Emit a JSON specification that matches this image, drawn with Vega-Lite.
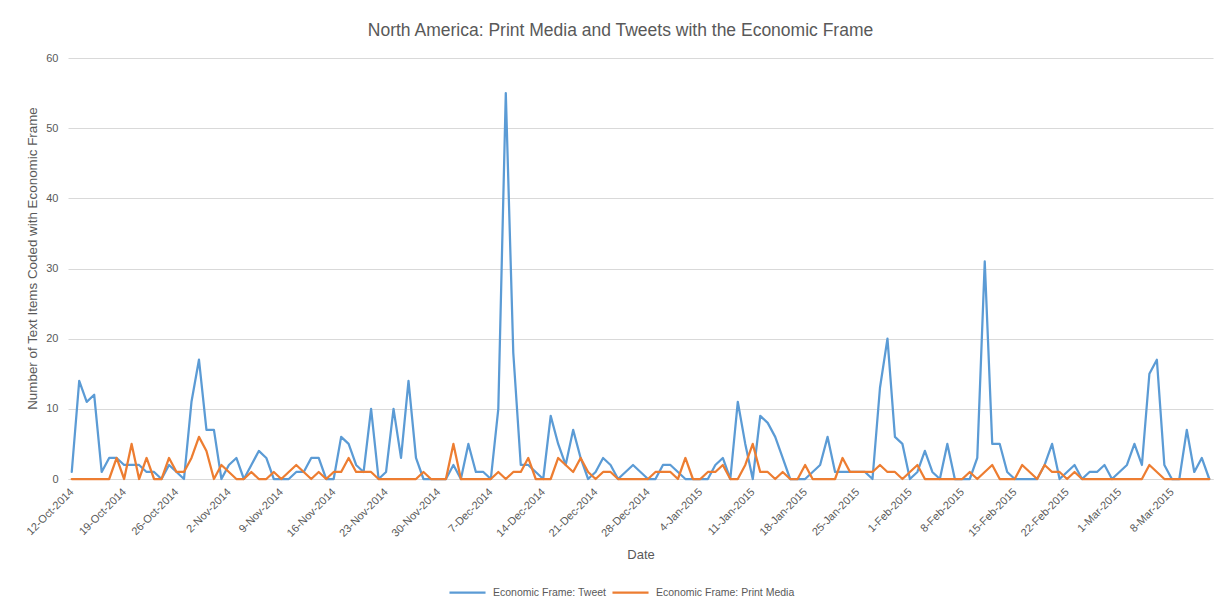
{
  "$schema": "https://vega.github.io/schema/vega-lite/v6.json",
  "autosize": "none",
  "width": 1145,
  "height": 421,
  "padding": {"left": 68, "top": 58, "right": 13, "bottom": 129},
  "background": "white",
  "title": {
    "text": "North America: Print Media and Tweets with the Economic Frame",
    "font": "Liberation Sans",
    "fontSize": 17.5,
    "fontWeight": "normal",
    "color": "#595959",
    "anchor": "middle",
    "dx": -20,
    "offset": 13
  },
  "config": {
    "view": {"stroke": null},
    "font": "Liberation Sans",
    "axis": {
      "labelColor": "#595959",
      "titleColor": "#595959",
      "labelFont": "Liberation Sans",
      "titleFont": "Liberation Sans",
      "titleFontWeight": "normal",
      "gridColor": "#D9D9D9",
      "gridWidth": 1,
      "domainColor": "#D9D9D9",
      "ticks": false
    }
  },
  "datasets": {
    "tweet": [
      {"date":"2014-10-12","n":1},{"date":"2014-10-13","n":14},{"date":"2014-10-14","n":11},{"date":"2014-10-15","n":12},{"date":"2014-10-16","n":1},{"date":"2014-10-17","n":3},{"date":"2014-10-18","n":3},{"date":"2014-10-19","n":2},{"date":"2014-10-20","n":2},{"date":"2014-10-21","n":2},
      {"date":"2014-10-22","n":1},{"date":"2014-10-23","n":1},{"date":"2014-10-24","n":0},{"date":"2014-10-25","n":2},{"date":"2014-10-26","n":1},{"date":"2014-10-27","n":0},{"date":"2014-10-28","n":11},{"date":"2014-10-29","n":17},{"date":"2014-10-30","n":7},{"date":"2014-10-31","n":7},
      {"date":"2014-11-01","n":0},{"date":"2014-11-02","n":2},{"date":"2014-11-03","n":3},{"date":"2014-11-04","n":0},{"date":"2014-11-05","n":2},{"date":"2014-11-06","n":4},{"date":"2014-11-07","n":3},{"date":"2014-11-08","n":0},{"date":"2014-11-09","n":0},{"date":"2014-11-10","n":0},
      {"date":"2014-11-11","n":1},{"date":"2014-11-12","n":1},{"date":"2014-11-13","n":3},{"date":"2014-11-14","n":3},{"date":"2014-11-15","n":0},{"date":"2014-11-16","n":0},{"date":"2014-11-17","n":6},{"date":"2014-11-18","n":5},{"date":"2014-11-19","n":2},{"date":"2014-11-20","n":1},
      {"date":"2014-11-21","n":10},{"date":"2014-11-22","n":0},{"date":"2014-11-23","n":1},{"date":"2014-11-24","n":10},{"date":"2014-11-25","n":3},{"date":"2014-11-26","n":14},{"date":"2014-11-27","n":3},{"date":"2014-11-28","n":0},{"date":"2014-11-29","n":0},{"date":"2014-11-30","n":0},
      {"date":"2014-12-01","n":0},{"date":"2014-12-02","n":2},{"date":"2014-12-03","n":0},{"date":"2014-12-04","n":5},{"date":"2014-12-05","n":1},{"date":"2014-12-06","n":1},{"date":"2014-12-07","n":0},{"date":"2014-12-08","n":10},{"date":"2014-12-09","n":55},{"date":"2014-12-10","n":18},
      {"date":"2014-12-11","n":2},{"date":"2014-12-12","n":2},{"date":"2014-12-13","n":1},{"date":"2014-12-14","n":0},{"date":"2014-12-15","n":9},{"date":"2014-12-16","n":5},{"date":"2014-12-17","n":2},{"date":"2014-12-18","n":7},{"date":"2014-12-19","n":3},{"date":"2014-12-20","n":0},
      {"date":"2014-12-21","n":1},{"date":"2014-12-22","n":3},{"date":"2014-12-23","n":2},{"date":"2014-12-24","n":0},{"date":"2014-12-25","n":1},{"date":"2014-12-26","n":2},{"date":"2014-12-27","n":1},{"date":"2014-12-28","n":0},{"date":"2014-12-29","n":0},{"date":"2014-12-30","n":2},
      {"date":"2014-12-31","n":2},
      {"date":"2015-01-01","n":1},{"date":"2015-01-02","n":0},{"date":"2015-01-03","n":0},{"date":"2015-01-04","n":0},{"date":"2015-01-05","n":0},{"date":"2015-01-06","n":2},{"date":"2015-01-07","n":3},{"date":"2015-01-08","n":0},{"date":"2015-01-09","n":11},{"date":"2015-01-10","n":5},
      {"date":"2015-01-11","n":0},{"date":"2015-01-12","n":9},{"date":"2015-01-13","n":8},{"date":"2015-01-14","n":6},{"date":"2015-01-15","n":3},{"date":"2015-01-16","n":0},{"date":"2015-01-17","n":0},{"date":"2015-01-18","n":0},{"date":"2015-01-19","n":1},{"date":"2015-01-20","n":2},
      {"date":"2015-01-21","n":6},{"date":"2015-01-22","n":1},{"date":"2015-01-23","n":1},{"date":"2015-01-24","n":1},{"date":"2015-01-25","n":1},{"date":"2015-01-26","n":1},{"date":"2015-01-27","n":0},{"date":"2015-01-28","n":13},{"date":"2015-01-29","n":20},{"date":"2015-01-30","n":6},
      {"date":"2015-01-31","n":5},
      {"date":"2015-02-01","n":0},{"date":"2015-02-02","n":1},{"date":"2015-02-03","n":4},{"date":"2015-02-04","n":1},{"date":"2015-02-05","n":0},{"date":"2015-02-06","n":5},{"date":"2015-02-07","n":0},{"date":"2015-02-08","n":0},{"date":"2015-02-09","n":0},{"date":"2015-02-10","n":3},
      {"date":"2015-02-11","n":31},{"date":"2015-02-12","n":5},{"date":"2015-02-13","n":5},{"date":"2015-02-14","n":1},{"date":"2015-02-15","n":0},{"date":"2015-02-16","n":0},{"date":"2015-02-17","n":0},{"date":"2015-02-18","n":0},{"date":"2015-02-19","n":2},{"date":"2015-02-20","n":5},
      {"date":"2015-02-21","n":0},{"date":"2015-02-22","n":1},{"date":"2015-02-23","n":2},{"date":"2015-02-24","n":0},{"date":"2015-02-25","n":1},{"date":"2015-02-26","n":1},{"date":"2015-02-27","n":2},{"date":"2015-02-28","n":0},
      {"date":"2015-03-01","n":1},{"date":"2015-03-02","n":2},{"date":"2015-03-03","n":5},{"date":"2015-03-04","n":2},{"date":"2015-03-05","n":15},{"date":"2015-03-06","n":17},{"date":"2015-03-07","n":2},{"date":"2015-03-08","n":0},{"date":"2015-03-09","n":0},{"date":"2015-03-10","n":7},
      {"date":"2015-03-11","n":1},{"date":"2015-03-12","n":3},{"date":"2015-03-13","n":0}
    ],
    "print": [
      {"date":"2014-10-12","n":0},{"date":"2014-10-13","n":0},{"date":"2014-10-14","n":0},{"date":"2014-10-15","n":0},{"date":"2014-10-16","n":0},{"date":"2014-10-17","n":0},{"date":"2014-10-18","n":3},{"date":"2014-10-19","n":0},{"date":"2014-10-20","n":5},{"date":"2014-10-21","n":0},
      {"date":"2014-10-22","n":3},{"date":"2014-10-23","n":0},{"date":"2014-10-24","n":0},{"date":"2014-10-25","n":3},{"date":"2014-10-26","n":1},{"date":"2014-10-27","n":1},{"date":"2014-10-28","n":3},{"date":"2014-10-29","n":6},{"date":"2014-10-30","n":4},{"date":"2014-10-31","n":0},
      {"date":"2014-11-01","n":2},{"date":"2014-11-02","n":1},{"date":"2014-11-03","n":0},{"date":"2014-11-04","n":0},{"date":"2014-11-05","n":1},{"date":"2014-11-06","n":0},{"date":"2014-11-07","n":0},{"date":"2014-11-08","n":1},{"date":"2014-11-09","n":0},{"date":"2014-11-10","n":1},
      {"date":"2014-11-11","n":2},{"date":"2014-11-12","n":1},{"date":"2014-11-13","n":0},{"date":"2014-11-14","n":1},{"date":"2014-11-15","n":0},{"date":"2014-11-16","n":1},{"date":"2014-11-17","n":1},{"date":"2014-11-18","n":3},{"date":"2014-11-19","n":1},{"date":"2014-11-20","n":1},
      {"date":"2014-11-21","n":1},{"date":"2014-11-22","n":0},{"date":"2014-11-23","n":0},{"date":"2014-11-24","n":0},{"date":"2014-11-25","n":0},{"date":"2014-11-26","n":0},{"date":"2014-11-27","n":0},{"date":"2014-11-28","n":1},{"date":"2014-11-29","n":0},{"date":"2014-11-30","n":0},
      {"date":"2014-12-01","n":0},{"date":"2014-12-02","n":5},{"date":"2014-12-03","n":0},{"date":"2014-12-04","n":0},{"date":"2014-12-05","n":0},{"date":"2014-12-06","n":0},{"date":"2014-12-07","n":0},{"date":"2014-12-08","n":1},{"date":"2014-12-09","n":0},{"date":"2014-12-10","n":1},
      {"date":"2014-12-11","n":1},{"date":"2014-12-12","n":3},{"date":"2014-12-13","n":0},{"date":"2014-12-14","n":0},{"date":"2014-12-15","n":0},{"date":"2014-12-16","n":3},{"date":"2014-12-17","n":2},{"date":"2014-12-18","n":1},{"date":"2014-12-19","n":3},{"date":"2014-12-20","n":1},
      {"date":"2014-12-21","n":0},{"date":"2014-12-22","n":1},{"date":"2014-12-23","n":1},{"date":"2014-12-24","n":0},{"date":"2014-12-25","n":0},{"date":"2014-12-26","n":0},{"date":"2014-12-27","n":0},{"date":"2014-12-28","n":0},{"date":"2014-12-29","n":1},{"date":"2014-12-30","n":1},
      {"date":"2014-12-31","n":1},
      {"date":"2015-01-01","n":0},{"date":"2015-01-02","n":3},{"date":"2015-01-03","n":0},{"date":"2015-01-04","n":0},{"date":"2015-01-05","n":1},{"date":"2015-01-06","n":1},{"date":"2015-01-07","n":2},{"date":"2015-01-08","n":0},{"date":"2015-01-09","n":0},{"date":"2015-01-10","n":2},
      {"date":"2015-01-11","n":5},{"date":"2015-01-12","n":1},{"date":"2015-01-13","n":1},{"date":"2015-01-14","n":0},{"date":"2015-01-15","n":1},{"date":"2015-01-16","n":0},{"date":"2015-01-17","n":0},{"date":"2015-01-18","n":2},{"date":"2015-01-19","n":0},{"date":"2015-01-20","n":0},
      {"date":"2015-01-21","n":0},{"date":"2015-01-22","n":0},{"date":"2015-01-23","n":3},{"date":"2015-01-24","n":1},{"date":"2015-01-25","n":1},{"date":"2015-01-26","n":1},{"date":"2015-01-27","n":1},{"date":"2015-01-28","n":2},{"date":"2015-01-29","n":1},{"date":"2015-01-30","n":1},
      {"date":"2015-01-31","n":0},
      {"date":"2015-02-01","n":1},{"date":"2015-02-02","n":2},{"date":"2015-02-03","n":0},{"date":"2015-02-04","n":0},{"date":"2015-02-05","n":0},{"date":"2015-02-06","n":0},{"date":"2015-02-07","n":0},{"date":"2015-02-08","n":0},{"date":"2015-02-09","n":1},{"date":"2015-02-10","n":0},
      {"date":"2015-02-11","n":1},{"date":"2015-02-12","n":2},{"date":"2015-02-13","n":0},{"date":"2015-02-14","n":0},{"date":"2015-02-15","n":0},{"date":"2015-02-16","n":2},{"date":"2015-02-17","n":1},{"date":"2015-02-18","n":0},{"date":"2015-02-19","n":2},{"date":"2015-02-20","n":1},
      {"date":"2015-02-21","n":1},{"date":"2015-02-22","n":0},{"date":"2015-02-23","n":1},{"date":"2015-02-24","n":0},{"date":"2015-02-25","n":0},{"date":"2015-02-26","n":0},{"date":"2015-02-27","n":0},{"date":"2015-02-28","n":0},
      {"date":"2015-03-01","n":0},{"date":"2015-03-02","n":0},{"date":"2015-03-03","n":0},{"date":"2015-03-04","n":0},{"date":"2015-03-05","n":2},{"date":"2015-03-06","n":1},{"date":"2015-03-07","n":0},{"date":"2015-03-08","n":0},{"date":"2015-03-09","n":0},{"date":"2015-03-10","n":0},
      {"date":"2015-03-11","n":0},{"date":"2015-03-12","n":0},{"date":"2015-03-13","n":0}
    ]
  },
  "encoding": {
    "x": {
      "field": "date",
      "type": "temporal",
      "scale": {
        "type": "utc",
        "domain": [
          {"year": 2014, "month": 10, "date": 11, "hours": 12, "utc": true},
          {"year": 2015, "month": 3, "date": 13, "hours": 12, "utc": true}
        ]
      },
      "axis": {
        "title": "Date",
        "titleFontSize": 13,
        "titlePadding": 10,
        "labelExpr": "utcFormat(datum.value, '%-d-%b-%Y')",
        "labelAngle": -45,
        "labelAlign": "right",
        "labelBaseline": "middle",
        "labelFontSize": 11,
        "labelPadding": 11,
        "labelOverlap": false,
        "grid": false,
        "values": [
          {"year": 2014, "month": 10, "date": 12, "utc": true},
          {"year": 2014, "month": 10, "date": 19, "utc": true},
          {"year": 2014, "month": 10, "date": 26, "utc": true},
          {"year": 2014, "month": 11, "date": 2, "utc": true},
          {"year": 2014, "month": 11, "date": 9, "utc": true},
          {"year": 2014, "month": 11, "date": 16, "utc": true},
          {"year": 2014, "month": 11, "date": 23, "utc": true},
          {"year": 2014, "month": 11, "date": 30, "utc": true},
          {"year": 2014, "month": 12, "date": 7, "utc": true},
          {"year": 2014, "month": 12, "date": 14, "utc": true},
          {"year": 2014, "month": 12, "date": 21, "utc": true},
          {"year": 2014, "month": 12, "date": 28, "utc": true},
          {"year": 2015, "month": 1, "date": 4, "utc": true},
          {"year": 2015, "month": 1, "date": 11, "utc": true},
          {"year": 2015, "month": 1, "date": 18, "utc": true},
          {"year": 2015, "month": 1, "date": 25, "utc": true},
          {"year": 2015, "month": 2, "date": 1, "utc": true},
          {"year": 2015, "month": 2, "date": 8, "utc": true},
          {"year": 2015, "month": 2, "date": 15, "utc": true},
          {"year": 2015, "month": 2, "date": 22, "utc": true},
          {"year": 2015, "month": 3, "date": 1, "utc": true},
          {"year": 2015, "month": 3, "date": 8, "utc": true}
        ]
      }
    },
    "y": {
      "field": "n",
      "type": "quantitative",
      "scale": {"domain": [0, 60], "nice": false},
      "axis": {
        "title": "Number of Text Items Coded with Economic Frame",
        "titleFontSize": 13.4,
        "titlePadding": 6,
        "titleY": 200,
        "titleAlign": "center",
        "values": [0, 10, 20, 30, 40, 50, 60],
        "labelFontSize": 11,
        "labelPadding": 10,
        "domain": false,
        "grid": true
      }
    }
  },
  "layer": [
    {
      "data": {"name": "tweet"},
      "mark": {"type": "line", "strokeWidth": 2.25, "strokeJoin": "round", "strokeCap": "round"},
      "encoding": {
        "color": {
          "datum": "Economic Frame: Tweet",
          "type": "nominal",
          "scale": {
            "domain": ["Economic Frame: Tweet", "Economic Frame: Print Media"],
            "range": ["#5B9BD5", "#ED7D31"]
          },
          "legend": {
            "title": null,
            "orient": "none",
            "direction": "horizontal",
            "legendX": 380,
            "legendY": 515,
            "symbolType": "stroke",
            "symbolSize": 1300,
            "symbolStrokeWidth": 2.25,
            "labelFontSize": 10.5,
            "labelColor": "#595959",
            "labelFont": "Liberation Sans",
            "labelOffset": 6,
            "columnPadding": 0
          }
        }
      }
    },
    {
      "data": {"name": "print"},
      "mark": {"type": "line", "strokeWidth": 2.25, "strokeJoin": "round", "strokeCap": "round"},
      "encoding": {
        "color": {"datum": "Economic Frame: Print Media", "type": "nominal"}
      }
    }
  ]
}
